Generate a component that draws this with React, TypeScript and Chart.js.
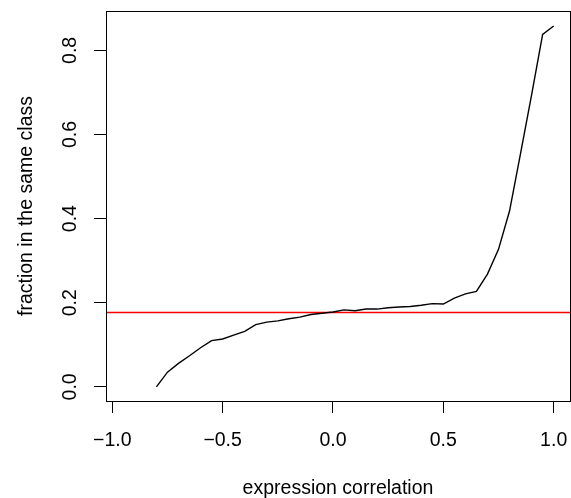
import React, { useEffect, useRef } from "react";
import { Chart, registerables } from "chart.js";

Chart.register(...registerables);

// Data
const corrX: number[] = [
  -0.8, -0.75, -0.7, -0.65, -0.6, -0.55, -0.5, -0.45, -0.4, -0.35, -0.3, -0.25,
  -0.2, -0.15, -0.1, -0.05, 0.0, 0.05, 0.1, 0.15, 0.2, 0.25, 0.3, 0.35, 0.4,
  0.45, 0.5, 0.55, 0.6, 0.65, 0.7, 0.75, 0.8, 0.85, 0.9, 0.95, 1.0,
];
const fracSameClass: number[] = [
  0.0, 0.035, 0.056, 0.074, 0.093, 0.11, 0.114, 0.123, 0.132, 0.148, 0.154,
  0.157, 0.162, 0.166, 0.172, 0.175, 0.178, 0.183, 0.181, 0.185, 0.185, 0.188,
  0.19, 0.191, 0.194, 0.198, 0.197, 0.211, 0.221, 0.227, 0.268, 0.327, 0.418,
  0.555, 0.694, 0.838, 0.858,
];
const baselineFraction = 0.177;

const xTicks: number[] = [-1.0, -0.5, 0.0, 0.5, 1.0];
const yTicks: number[] = [0.0, 0.2, 0.4, 0.6, 0.8];
const xLimits: number[] = [-1.0285, 1.074];
const yLimits: number[] = [-0.0335, 0.8935];

const xTitle = "expression correlation";
const yTitle = "fraction in the same class";

const FONT = "'Liberation Sans', Arial, Helvetica, sans-serif";
const FONT_SIZE = 19.5;

const fmt = (v: number) => v.toFixed(1).replace("-", "\u2212");

const boxPlugin = {
  id: "rbox",
  afterDraw(chart: any) {
    const { ctx, chartArea } = chart;
    ctx.save();
    ctx.strokeStyle = "#000";
    ctx.lineWidth = 1;
    ctx.strokeRect(
      chartArea.left + 0.5,
      chartArea.top + 0.5,
      chartArea.right - chartArea.left,
      chartArea.bottom - chartArea.top
    );
    ctx.restore();
  },
};

const zeroPadding = (scale: any) => {
  scale.paddingLeft = 0;
  scale.paddingRight = 0;
  scale.paddingTop = 0;
  scale.paddingBottom = 0;
};

export default function App() {
  const ref = useRef<HTMLCanvasElement>(null);

  useEffect(() => {
    if (!ref.current) return;
    const chart = new Chart(ref.current, {
      type: "line",
      data: {
        datasets: [
          {
            data: corrX.map((x, i) => ({ x, y: fracSameClass[i] })),
            borderColor: "#000",
            borderWidth: 1.4,
            pointRadius: 0,
            tension: 0,
            fill: false,
          },
          {
            data: xLimits.map((x) => ({ x, y: baselineFraction })),
            borderColor: "#ff0000",
            borderWidth: 1.4,
            pointRadius: 0,
            tension: 0,
            fill: false,
          },
        ],
      },
      options: {
        responsive: false,
        animation: false,
        devicePixelRatio: 1,
        layout: { padding: { left: 0, top: 11, right: 1, bottom: 0 } },
        plugins: {
          legend: { display: false },
          tooltip: { enabled: false },
        },
        scales: {
          x: {
            type: "linear",
            min: xLimits[0],
            max: xLimits[1],
            afterBuildTicks: (scale: any) => {
              scale.ticks = xTicks.map((value) => ({ value }));
            },
            afterFit: (scale: any) => {
              scale.height = 97;
              zeroPadding(scale);
            },
            border: { display: false },
            grid: {
              drawOnChartArea: false,
              drawTicks: true,
              tickLength: 12,
              color: "#000",
              lineWidth: 1,
            },
            ticks: {
              autoSkip: false,
              maxRotation: 0,
              padding: 16,
              color: "#000",
              font: { family: FONT, size: FONT_SIZE },
              callback: (v: any) => fmt(Number(v)),
            },
            title: {
              display: true,
              text: xTitle,
              color: "#000",
              font: { family: FONT, size: FONT_SIZE },
              padding: { top: 0, bottom: -2 },
            },
          },
          y: {
            type: "linear",
            min: yLimits[0],
            max: yLimits[1],
            afterBuildTicks: (scale: any) => {
              scale.ticks = yTicks.map((value) => ({ value }));
            },
            afterFit: (scale: any) => {
              scale.width = 106;
              zeroPadding(scale);
            },
            border: { display: false },
            grid: {
              drawOnChartArea: false,
              drawTicks: true,
              tickLength: 12,
              color: "#000",
              lineWidth: 1,
            },
            ticks: {
              autoSkip: false,
              minRotation: 90,
              maxRotation: 90,
              crossAlign: "center",
              padding: 10,
              color: "#000",
              font: { family: FONT, size: FONT_SIZE },
              callback: (v: any) => fmt(Number(v)),
            },
            title: {
              display: true,
              text: yTitle,
              color: "#000",
              font: { family: FONT, size: FONT_SIZE },
              padding: { top: 14.6, bottom: 0 },
            },
          },
        },
      },
      plugins: [boxPlugin],
    } as any);
    return () => chart.destroy();
  }, []);

  return (
    <div style={{ position: "fixed", left: 0, top: 0, width: 571, height: 498, background: "#fff" }}>
      <canvas ref={ref} width={571} height={498} />
    </div>
  );
}
